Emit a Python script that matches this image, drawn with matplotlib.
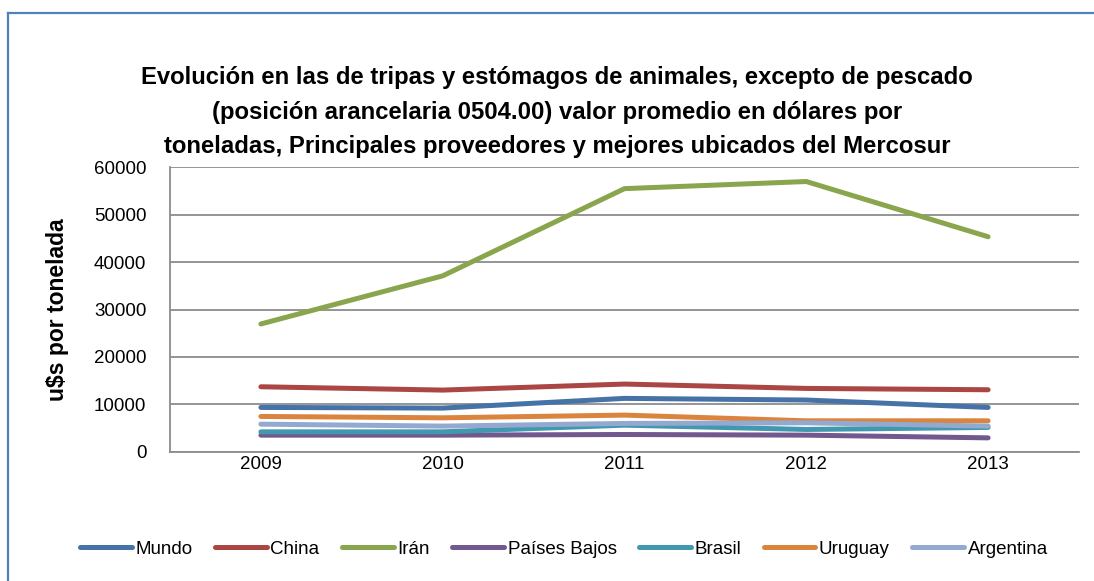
import matplotlib.pyplot as plt
import numpy as np

plt.rcParams["font.family"] = ["Liberation Sans", "DejaVu Sans"]

years = ["2009", "2010", "2011", "2012", "2013"]
mundo = [9340, 9200, 11250, 10900, 9340]
china = [13700, 13000, 14270, 13350, 13070]
iran = [26950, 37100, 55500, 57000, 45350]
paises_bajos = [3490, 3490, 3630, 3490, 2920]
brasil = [4190, 4190, 5600, 4690, 5120]
uruguay = [7440, 7150, 7720, 6520, 6520]
argentina = [5810, 5400, 5960, 6100, 5400]

series = [
    ("Mundo", mundo, "#4572A7"),
    ("China", china, "#AA4643"),
    ("Irán", iran, "#89A54E"),
    ("Países Bajos", paises_bajos, "#71588F"),
    ("Brasil", brasil, "#4198AF"),
    ("Uruguay", uruguay, "#DB843D"),
    ("Argentina", argentina, "#93A9CF"),
]

W, H = 1094, 581
fig = plt.figure(figsize=(W / 100, H / 100), dpi=100)
ax = fig.add_axes([170 / W, 1 - 451.7 / H, (1079 - 170) / W, (451.7 - 167.3) / H])

x = np.arange(len(years))
for name, vals, color in series:
    ax.plot(x, vals, color=color, lw=3.6, solid_capstyle="round", label=name)

ax.set_xlim(-0.5, len(years) - 0.5)
ax.set_ylim(0, 60000)
ax.set_yticks(np.arange(0, 60001, 10000))
ax.set_xticks(x)
ax.set_xticklabels(years)
ax.tick_params(axis="both", length=0, labelsize=13.5, colors="black")
ax.tick_params(axis="y", pad=17)
ax.tick_params(axis="x", pad=3)
ax.grid(axis="y", color="#8c8c8c", lw=1.3)
ax.set_axisbelow(True)
for s in ["top", "right"]:
    ax.spines[s].set_visible(False)
for s in ["left", "bottom"]:
    ax.spines[s].set_color("#8c8c8c")
    ax.spines[s].set_linewidth(1.3)

# título del eje y
fig.text(58 / W, 1 - 310 / H, "u$s por tonelada", rotation=90, ha="center",
         va="center", fontsize=16.5, fontweight="bold")

fig.text(557 / W, 1 - 112 / H,
         "Evolución en las de tripas y estómagos de animales, excepto de pescado\n"
         "(posición arancelaria 0504.00) valor promedio en dólares por\n"
         "toneladas, Principales proveedores y mejores ubicados del Mercosur",
         ha="center", va="center", fontsize=17.2, fontweight="bold", linespacing=1.65)

fig.legend(loc="center", bbox_to_anchor=(564 / W, 1 - 549 / H), ncol=7,
           frameon=False, fontsize=13.5, handlelength=2.75, columnspacing=1.2,
           handletextpad=0.2)

# borde del área del gráfico
fig.add_artist(plt.Line2D([7.5 / W, 7.5 / W], [0, 1 - 12.5 / H],
                          transform=fig.transFigure, color="#4F81BD", lw=1.6))
fig.add_artist(plt.Line2D([7.5 / W, 1], [1 - 12.5 / H, 1 - 12.5 / H],
                          transform=fig.transFigure, color="#4F81BD", lw=1.6))

fig.savefig("out.png", dpi=100)
